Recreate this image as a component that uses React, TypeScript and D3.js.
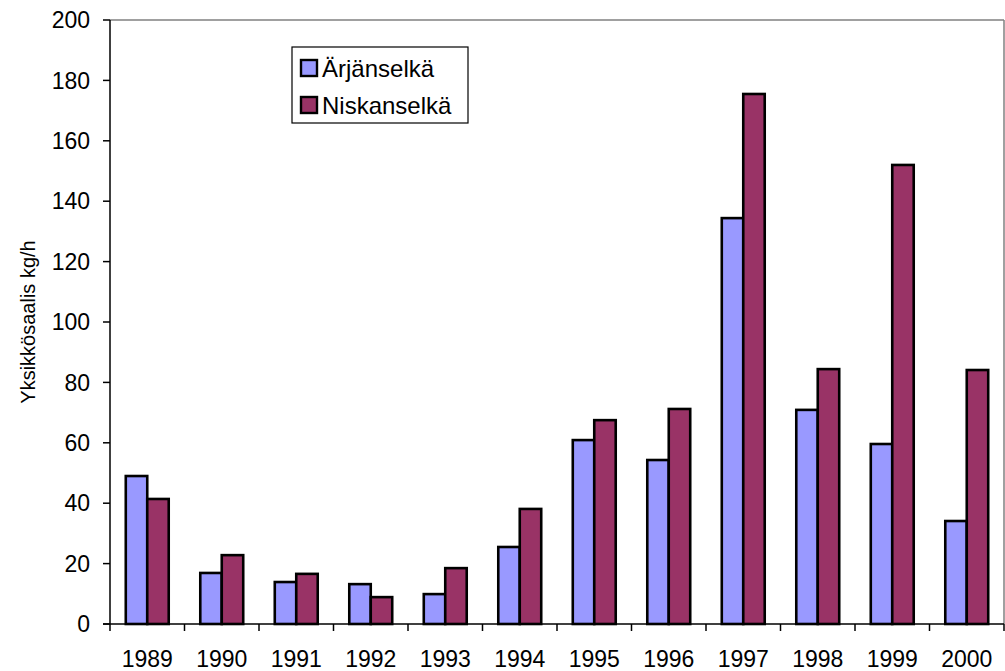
import React from "react";
import * as d3 from "d3";

const years = ["1989","1990","1991","1992","1993","1994","1995","1996","1997","1998","1999","2000"];
const seriesNames = ["Ärjänselkä", "Niskanselkä"];
const arjanselka = [49, 16.9, 13.9, 13.2, 9.9, 25.5, 60.9, 54.3, 134.4, 70.9, 59.6, 34.1];
const niskanselka = [41.4, 22.8, 16.6, 8.9, 18.5, 38.1, 67.5, 71.2, 175.5, 84.4, 152, 84.1];
const yTicks = [0, 20, 40, 60, 80, 100, 120, 140, 160, 180, 200];
const colors = ["#9999FF", "#993366"];
const yTitle = "Yksikkösaalis kg/h";

export default function App() {
  const W = 1005, H = 671;
  const left = 110, right = 1004, top = 20, bottom = 624;
  const x = d3.scaleBand<string>().domain(years).range([left, right]).padding(0);
  const xs = d3.scaleBand<string>().domain(seriesNames).range([0, x.bandwidth()]).paddingInner(0).paddingOuter(0.735);
  const y = d3.scaleLinear().domain([0, 200]).range([bottom, top]);
  const data = [arjanselka, niskanselka];
  const font = "'Liberation Sans', Arial, Helvetica, sans-serif";
  const boundaries = years.map((yr) => x(yr)!).concat([right]);

  return (
    <svg width={W} height={H} style={{ position: "absolute", left: 0, top: 0 }} fontFamily={font}>
      <rect x={0} y={0} width={W} height={H} fill="#fff" />
      <line x1={left} y1={top} x2={right} y2={top} stroke="#808080" strokeWidth={1.5} />
      <line x1={right} y1={top} x2={right} y2={bottom} stroke="#808080" strokeWidth={1.5} />
      {years.map((yr, i) =>
        seriesNames.map((s, j) => {
          const v = data[j][i];
          const bx = x(yr)! + xs(s)!;
          return (
            <rect key={yr + s} x={bx} y={y(v)} width={xs.bandwidth()} height={y(0) - y(v)}
              fill={colors[j]} stroke="#000" strokeWidth={2.6} />
          );
        })
      )}
      <line x1={left} y1={top} x2={left} y2={bottom} stroke="#000" strokeWidth={1.5} />
      {yTicks.map((t) => (
        <g key={t}>
          <line x1={left - 7} x2={left} y1={y(t)} y2={y(t)} stroke="#000" strokeWidth={1.5} />
          <text x={left - 20} y={y(t)} dy="0.36em" textAnchor="end" fontSize={23}>{t}</text>
        </g>
      ))}
      <line x1={left - 7} x2={right} y1={bottom} y2={bottom} stroke="#000" strokeWidth={1.5} />
      {boundaries.map((bx, i) => (
        <line key={i} x1={bx} x2={bx} y1={bottom} y2={bottom + 7} stroke="#000" strokeWidth={1.5} />
      ))}
      {years.map((yr) => (
        <text key={yr} x={x(yr)! + x.bandwidth() / 2} y={666.5} textAnchor="middle" fontSize={23}>{yr}</text>
      ))}
      <text transform={`translate(35, ${(top + bottom) / 2}) rotate(-90)`} textAnchor="middle" fontSize={20}>{yTitle}</text>
      <rect x={292} y={47} width={176} height={76} fill="#fff" stroke="#000" strokeWidth={1.2} />
      {seriesNames.map((s, j) => (
        <g key={s}>
          <rect x={301} y={60 + j * 37} width={16} height={16} fill={colors[j]} stroke="#000" strokeWidth={2.4} />
          <text x={322} y={68 + j * 37} dy="0.36em" fontSize={24}>{s}</text>
        </g>
      ))}
    </svg>
  );
}
